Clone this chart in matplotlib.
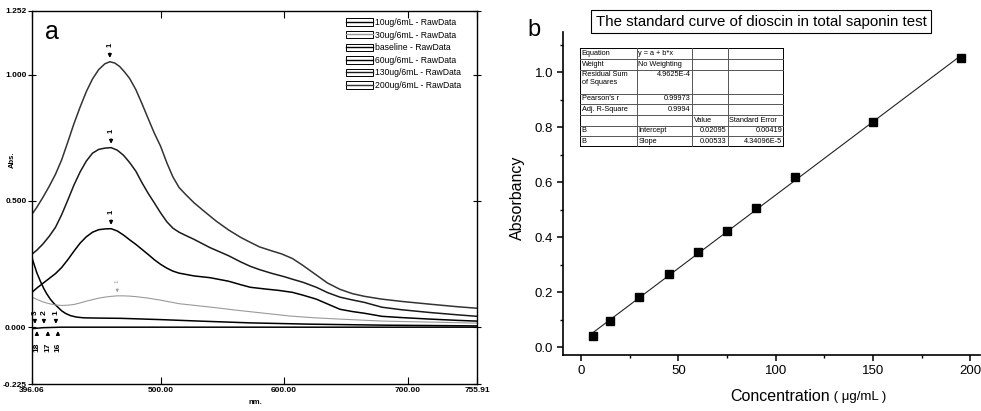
import numpy as np
import matplotlib.pyplot as plt
from matplotlib.lines import Line2D
from matplotlib.patches import Rectangle
from matplotlib.legend_handler import HandlerTuple
from matplotlib.ticker import MultipleLocator

plt.rcParams['font.family'] = ['Liberation Sans', 'DejaVu Sans']

# ---- panel a : UV-Vis scans (Abs. vs wavelength) ----
nm_200 = [396.06, 400, 405, 410, 415, 420, 425, 430, 435, 440, 445, 450, 455, 459, 463, 467, 471, 475,
          480, 485, 490, 495, 500, 505, 510, 515, 520, 527, 535, 545, 555, 565, 572.6, 580, 590, 598,
          606.6, 615, 625, 635, 645, 655, 665, 679, 695, 718, 740, 755.91]
abs_200 = [0.447, 0.475, 0.515, 0.558, 0.605, 0.662, 0.733, 0.806, 0.872, 0.933, 0.983, 1.02, 1.043, 1.051,
           1.046, 1.032, 1.01, 0.985, 0.941, 0.885, 0.826, 0.768, 0.717, 0.652, 0.595, 0.553, 0.527, 0.493,
           0.46, 0.42, 0.385, 0.355, 0.336, 0.318, 0.302, 0.29, 0.272, 0.245, 0.21, 0.175, 0.150, 0.133,
           0.122, 0.111, 0.102, 0.091, 0.081, 0.075]

nm_130 = [396.06, 400, 405, 410, 415, 420, 425, 430, 435, 440, 445, 450, 455, 460, 465, 470, 475, 480,
          485, 490, 495, 500, 505, 510, 515, 520, 527, 540, 555, 565, 572.6, 580, 590, 600, 606.6, 615,
          626, 635, 645, 655, 665, 679, 695, 718, 740, 755.91]
abs_130 = [0.289, 0.305, 0.33, 0.36, 0.395, 0.445, 0.503, 0.563, 0.615, 0.658, 0.689, 0.704, 0.709, 0.711,
           0.701, 0.681, 0.652, 0.618, 0.572, 0.530, 0.492, 0.453, 0.418, 0.392, 0.376, 0.364, 0.348, 0.315,
           0.283, 0.258, 0.241, 0.228, 0.213, 0.200, 0.19, 0.178, 0.158, 0.137, 0.119, 0.108, 0.098, 0.079,
           0.069, 0.058, 0.049, 0.043]

nm_60 = [396.06, 400, 405, 410, 415, 420, 425, 430, 435, 440, 445, 450, 455, 460, 465, 470, 475, 480,
         485, 490, 495, 500, 505, 510, 515, 527, 540, 555, 565, 572.6, 585, 595, 606.6, 615, 626, 635,
         645, 655, 665, 679, 695, 718, 740, 755.91]
abs_60 = [0.138, 0.155, 0.174, 0.193, 0.212, 0.236, 0.267, 0.301, 0.333, 0.358, 0.376, 0.386, 0.389, 0.390,
          0.381, 0.365, 0.346, 0.328, 0.308, 0.288, 0.267, 0.249, 0.234, 0.222, 0.214, 0.203, 0.196, 0.182,
          0.168, 0.158, 0.151, 0.146, 0.138, 0.127, 0.111, 0.092, 0.071, 0.062, 0.055, 0.043, 0.038, 0.032,
          0.027, 0.024]

nm_30 = [396.06, 400, 405, 410, 415, 420, 425, 430, 435, 440, 445, 450, 455, 460, 465, 470, 475, 480,
         490, 500, 515, 530, 545, 560, 575, 590, 605, 625, 645, 680, 720, 755.91]
abs_30 = [0.119, 0.11, 0.100, 0.093, 0.088, 0.086, 0.087, 0.090, 0.096, 0.103, 0.109, 0.115, 0.119, 0.122,
          0.124, 0.124, 0.123, 0.121, 0.115, 0.107, 0.093, 0.085, 0.077, 0.068, 0.060, 0.052, 0.044, 0.037,
          0.032, 0.024, 0.020, 0.016]

nm_10 = [396.06, 398, 400, 403, 405.7, 408, 411, 414, 417, 420, 423, 427, 432, 438, 450, 468, 500, 532,
         572.6, 620, 680, 755.91]
abs_10 = [0.275, 0.245, 0.215, 0.18, 0.152, 0.132, 0.11, 0.093, 0.079, 0.065, 0.055, 0.046, 0.04, 0.037,
          0.036, 0.035, 0.03, 0.024, 0.017, 0.012, 0.008, 0.005]

nm_base = [396.06, 405, 420, 500, 600, 755.91]
abs_base = [-0.006, -0.002, 0.0, 0.0, 0.0, 0.0]

scan_labels = ['10ug/6mL - RawData', '30ug/6mL - RawData', 'baseline - RawData',
               '60ug/6mL - RawData', '130ug/6mL - RawData', '200ug/6mL - RawData']
scan_colors = ['black', '#9a9a9a', 'black', 'black', '#1a1a1a', '#333333']

# peak-pick markers near the short-wavelength end
pick_top_nm = [398.4, 405.7, 415.4]
pick_top_lab = ['3', '2', '1']
pick_bot_nm = [400.0, 408.9, 417.0]
pick_bot_lab = ['18', '17', '16']

# ---- panel b : standard curve ----
conc = [6, 15, 30, 45, 60, 75, 90, 110, 150, 195]
absorb = [0.041, 0.097, 0.182, 0.265, 0.345, 0.424, 0.506, 0.621, 0.818, 1.054]
fit_a = 0.02095
fit_b = 0.00533

table_rows = [
    ['Equation', 'y = a + b*x', '', ''],
    ['Weight', 'No Weighting', '', ''],
    ['Residual Sum\nof Squares', '4.9625E-4', '', ''],
    ["Pearson's r", '0.99973', '', ''],
    ['Adj. R-Square', '0.9994', '', ''],
    ['', '', 'Value', 'Standard Error'],
    ['B', 'Intercept', '0.02095', '0.00419'],
    ['B', 'Slope', '0.00533', '4.34096E-5'],
]

W, H = 981, 411
fig = plt.figure(figsize=(W / 100, H / 100), dpi=100)

# ================= panel a =================
ax1 = fig.add_axes([32 / W, 1 - 384 / H, 445 / W, 373 / H])
series = [(nm_10, abs_10), (nm_30, abs_30), (nm_base, abs_base),
          (nm_60, abs_60), (nm_130, abs_130), (nm_200, abs_200)]
for (x, y), c, lab in zip(series, scan_colors, scan_labels):
    lw = 0.8 if c == '#9a9a9a' else 1.1
    ax1.plot(x, y, color=c, lw=lw, label=lab, solid_joinstyle='round')

ax1.set_xlim(396.06, 755.91)
ax1.set_ylim(-0.225, 1.252)
ax1.set_xticks([396.06, 500, 600, 700, 755.91])
ax1.set_xticklabels(['396.06', '500.00', '600.00', '700.00', '755.91'])
ax1.set_yticks([-0.225, 0.0, 0.5, 1.0, 1.252])
ax1.set_yticklabels(['-0.225', '0.000', '0.500', '1.000', '1.252'])
ax1.tick_params(axis='x', direction='in', length=5, width=0.8, top=True, labelsize=6, pad=2)
ax1.tick_params(axis='y', direction='inout', length=6, width=0.8, right=True, labelsize=6, pad=1)
for s in ax1.spines.values():
    s.set_linewidth(1.0)
for lbl in ax1.get_xticklabels() + ax1.get_yticklabels():
    lbl.set_fontweight('bold')

ax1.text(12 / W, 1 - 160 / H, 'Abs.', transform=fig.transFigure, rotation=90,
         ha='center', va='center', fontsize=5.5, fontweight='bold')
ax1.text(255 / W, 1 - 402 / H, 'nm.', transform=fig.transFigure,
         ha='center', va='center', fontsize=5.5, fontweight='bold')
ax1.text(0.03, 0.945, 'a', transform=ax1.transAxes, fontsize=18, va='center', ha='left')

# peak arrows on the three main scans
for x, y in [(nm_60, abs_60), (nm_130, abs_130), (nm_200, abs_200)]:
    i = int(np.argmax(y))
    ax1.annotate('', xy=(x[i], y[i] + 0.004), xytext=(x[i], y[i] + 0.045),
                 arrowprops=dict(arrowstyle='-|>', color='black', lw=1.0, mutation_scale=5))
    ax1.text(x[i], y[i] + 0.068, '1', rotation=90, ha='center', va='center',
             fontsize=5.5, fontweight='bold')
i = int(np.argmax(abs_30))
ax1.annotate('', xy=(nm_30[i], abs_30[i] + 0.003), xytext=(nm_30[i], abs_30[i] + 0.038),
             arrowprops=dict(arrowstyle='-|>', color='#9a9a9a', lw=0.6, mutation_scale=4))
ax1.text(nm_30[i], abs_30[i] + 0.058, '1', rotation=90, ha='center', va='center',
         fontsize=4.5, color='#9a9a9a')

for x, lab in zip(pick_top_nm, pick_top_lab):
    ax1.annotate('', xy=(x, 0.002), xytext=(x, 0.037),
                 arrowprops=dict(arrowstyle='-|>', color='black', lw=1.0, mutation_scale=5))
    ax1.text(x, 0.058, lab, rotation=90, ha='center', va='center', fontsize=6, fontweight='bold')
for x, lab in zip(pick_bot_nm, pick_bot_lab):
    ax1.annotate('', xy=(x, -0.004), xytext=(x, -0.04),
                 arrowprops=dict(arrowstyle='-|>', color='black', lw=1.0, mutation_scale=5))
    ax1.text(x, -0.08, lab, rotation=90, ha='center', va='center', fontsize=6, fontweight='bold')

# legend: boxed swatches with a line through each
handles = []
for c in scan_colors:
    box = Rectangle((0, 0), 1, 1, facecolor='white', edgecolor='black', lw=0.7)
    ln = Line2D([], [], color=c, lw=1.0)
    handles.append((box, ln))
ax1.legend(handles, scan_labels, handler_map={tuple: HandlerTuple(ndivide=1, pad=0)},
           loc='upper left', bbox_to_anchor=((346 - 32) / 445, (384 - 18) / 373),
           frameon=False, fontsize=6.2, handlelength=3.1, handleheight=0.95,
           handletextpad=0.25, labelspacing=0.42, borderpad=0, borderaxespad=0)

# ================= panel b =================
ax2 = fig.add_axes([563 / W, 1 - 355 / H, 417 / W, 323 / H])
ax2.plot([conc[0], conc[-1]], [fit_a + fit_b * conc[0], fit_a + fit_b * conc[-1]],
         color='#222222', lw=0.8)
ax2.plot(conc, absorb, ls='none', marker='s', color='black', ms=6)
ax2.set_xlim(-9.3, 205)
ax2.set_ylim(-0.028, 1.147)
ax2.spines['top'].set_visible(False)
ax2.spines['right'].set_visible(False)
ax2.spines['left'].set_linewidth(1.2)
ax2.spines['bottom'].set_linewidth(1.2)
ax2.xaxis.set_major_locator(MultipleLocator(50))
ax2.xaxis.set_minor_locator(MultipleLocator(25))
ax2.yaxis.set_minor_locator(MultipleLocator(0.1))
ax2.set_yticks(np.arange(0, 1.01, 0.2))
ax2.tick_params(which='major', direction='out', length=4, width=1.1, labelsize=9.5, pad=3)
ax2.tick_params(which='minor', direction='out', length=2.5, width=1.0)
ax2.set_ylabel('Absorbancy', fontsize=11.5)
ax2.yaxis.set_label_coords(-0.091, 0.486)

t1 = ax2.annotate('Concentration', xy=(730 / W, 1 - 396 / H), xycoords='figure fraction',
                  ha='left', va='center', fontsize=11.5)
ax2.annotate(' ( μg/mL )', xy=(1, 0.42), xycoords=t1, ha='left', va='center', fontsize=9.5)

fig.text(527 / W, 1 - 30 / H, 'b', fontsize=17, ha='left', va='center')
fig.text(761 / W, 1 - 22 / H, 'The standard curve of dioscin in total saponin test',
         fontsize=10.8, ha='center', va='center',
         bbox=dict(boxstyle='square,pad=0.3', facecolor='white', edgecolor='black', lw=0.8))

# regression summary table
tax = fig.add_axes([580 / W, 1 - 147 / H, 204 / W, 99 / H])
col_edges = np.array([0, 57, 112, 148, 204])
row_h = np.array([10.6, 11.7, 23.3, 10.7, 10.7, 10.7, 10.3, 11.0])
row_edges = np.concatenate([[0], np.cumsum(row_h)])
tax.set_xlim(0, col_edges[-1])
tax.set_ylim(row_edges[-1], 0)
tax.axis('off')
tax.add_patch(Rectangle((0, 0), col_edges[-1], row_edges[-1], fill=False, ec='black', lw=1.4))
for xe in col_edges[1:-1]:
    tax.plot([xe, xe], [0, row_edges[-1]], color='#555555', lw=0.7)
for ye in row_edges[1:-1]:
    tax.plot([0, col_edges[-1]], [ye, ye], color='#555555', lw=0.7)

for r, row in enumerate(table_rows):
    for c, txt in enumerate(row):
        if not txt:
            continue
        numeric = txt[0].isdigit()
        if numeric:
            x, ha = col_edges[c + 1] - 1.5, 'right'
        else:
            x, ha = col_edges[c] + 1.5, 'left'
        if row_h[r] > 15:
            y, va = row_edges[r] + 1.0, 'top'
        else:
            y, va = row_edges[r] + row_h[r] / 2, 'center'
        tax.text(x, y, txt, ha=ha, va=va, fontsize=5.3, linespacing=1.1)

fig.savefig('out.png', dpi=100)
